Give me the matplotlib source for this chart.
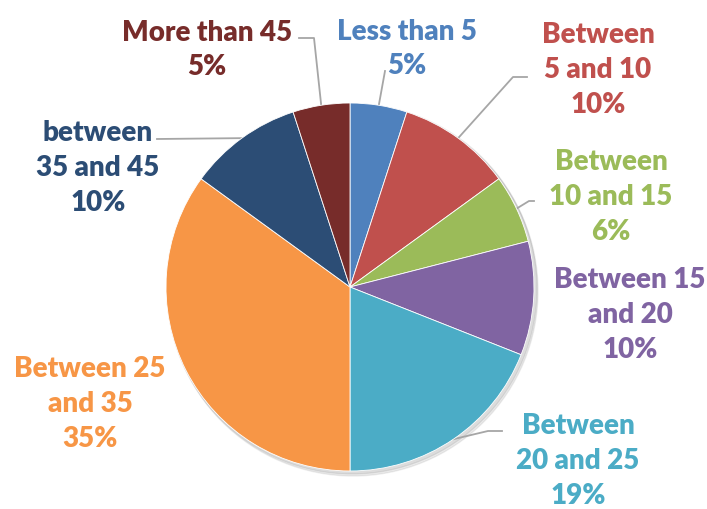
import matplotlib.pyplot as plt
import numpy as np
from matplotlib.patches import Circle

# data
groups = ['Less than 5', 'Between 5 and 10', 'Between 10 and 15', 'Between 15 and 20',
          'Between 20 and 25', 'Between 25 and 35', 'between 35 and 45', 'More than 45']
shares = [5, 10, 6, 10, 19, 35, 10, 5]
label_text = ['Less than 5\n5%', 'Between\n5 and 10\n10%', 'Between\n10 and 15\n6%',
              'Between 15\nand 20\n10%', 'Between\n20 and 25\n19%', 'Between 25\nand 35\n35%',
              'between\n35 and 45\n10%', 'More than 45\n5%']
colors = ['#4F81BD', '#C0504D', '#9BBB59', '#8064A2', '#4BACC6', '#F79646', '#2C4D75', '#772C2A']

W, H = 707, 510
def py(y):
    # pixel row -> data y
    return H - y

cx, cy, R = 350, py(288), 184

# label centre (px) and leader elbow points (px), text side first
label_pos = [(407, 49), (598, 70), (611, 197), (630, 315), (578, 461), (90, 404), (98, 168), (207, 50)]
leaders = [[(385, 72)], [(527, 78), (513, 78)], [(534, 202), (529, 202)], None,
           [(502, 432), (488, 432)], None, [(157, 140)], [(299, 39), (314, 39)]]

fig = plt.figure(figsize=(W / 100, H / 100), dpi=100)
ax = fig.add_axes([0, 0, 1, 1])

# faint shadow
ax.add_patch(Circle((cx + 3, cy - 4), R + 1, color='#000000', alpha=0.07, zorder=0))
ax.add_patch(Circle((cx + 2, cy - 2), R + 1, color='#000000', alpha=0.07, zorder=0))

wedges, _ = ax.pie(shares, colors=colors, startangle=90, counterclock=False,
                   center=(cx, cy), radius=R,
                   wedgeprops=dict(edgecolor='white', linewidth=0.6, zorder=1))

for i, w in enumerate(wedges):
    x, y = label_pos[i]
    ax.text(x, py(y), label_text[i], ha='center', va='center', color=colors[i],
            fontsize=20, fontweight='heavy', family='Lato', linespacing=1.42)
    if leaders[i] is not None:
        mid = np.deg2rad((w.theta1 + w.theta2) / 2)
        ex, ey = cx + R * np.cos(mid), cy + R * np.sin(mid)
        xs = [p[0] for p in leaders[i]] + [ex]
        ys = [py(p[1]) for p in leaders[i]] + [ey]
        ax.plot(xs, ys, color='#A6A6A6', lw=1.3, zorder=0.5)

ax.set_xlim(0, W)
ax.set_ylim(0, H)
ax.set_aspect('equal')
ax.axis('off')

plt.savefig('out.png', dpi=100)
